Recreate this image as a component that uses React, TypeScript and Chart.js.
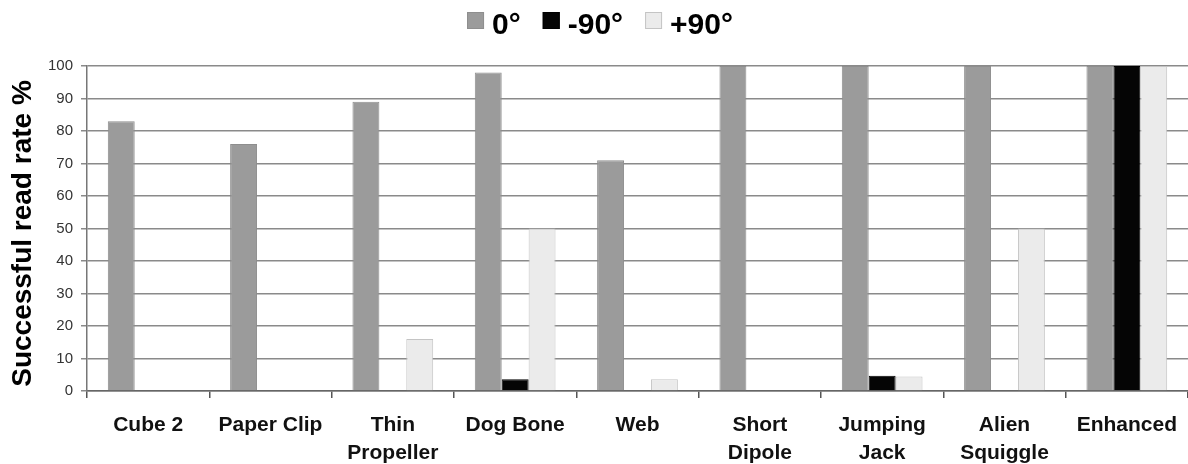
import React, { useEffect, useRef } from "react";
import { Chart, registerables } from "chart.js";

Chart.register(...registerables);

const categories: (string | string[])[] = [
  "Cube 2",
  "Paper Clip",
  ["Thin", "Propeller"],
  "Dog Bone",
  "Web",
  ["Short", "Dipole"],
  ["Jumping", "Jack"],
  ["Alien", "Squiggle"],
  "Enhanced",
];
const seriesNames = ["0°", "-90°", "+90°"];
const values0 = [83, 76, 89, 98, 71, 100, 100, 100, 100];
const valuesMinus90 = [0, 0, 0, 3.6, 0, 0, 4.7, 0, 100];
const valuesPlus90 = [0, 0, 16, 50, 3.6, 0, 4.5, 50, 100];
const yTicks = [0, 10, 20, 30, 40, 50, 60, 70, 80, 90, 100];
const yTitle = "Successful read rate %";

const FONT = "'Liberation Sans', Arial, Helvetica, sans-serif";

const customLegendAndTitle = {
  id: "customLegendAndTitle",
  afterDraw(chart: any) {
    const ctx = chart.ctx as CanvasRenderingContext2D;
    // Legend
    ctx.save();
    ctx.font = `bold 30px ${FONT}`;
    ctx.textBaseline = "middle";
    ctx.textAlign = "left";
    const box = 17;
    const gap = 8;
    const spacing = 22;
    const items = chart.data.datasets.map((ds: any) => ({
      label: ds.label as string,
      fill: ds.backgroundColor as string,
      stroke: ds.borderColor as string,
      w: ctx.measureText(ds.label).width,
    }));
    const total =
      items.reduce((s: number, it: any) => s + box + gap + it.w, 0) +
      spacing * (items.length - 1);
    let x = 600 - total / 2;
    const cy = 26;
    items.forEach((it: any) => {
      ctx.fillStyle = it.fill;
      ctx.fillRect(x, 12, box, box);
      ctx.strokeStyle = it.stroke;
      ctx.lineWidth = 1;
      ctx.strokeRect(x + 0.5, 12.5, box - 1, box - 1);
      ctx.fillStyle = "#000";
      ctx.fillText(it.label, x + box + gap, cy);
      x += box + gap + it.w + spacing;
    });
    ctx.restore();

    // Y axis title
    ctx.save();
    ctx.translate(23, 233.5);
    ctx.rotate(-Math.PI / 2);
    ctx.font = `bold 28px ${FONT}`;
    ctx.fillStyle = "#000";
    ctx.textAlign = "center";
    ctx.textBaseline = "middle";
    ctx.fillText(yTitle, 0, 0);
    ctx.restore();
  },
};

export default function App() {
  const ref = useRef<HTMLCanvasElement | null>(null);
  useEffect(() => {
    document.body.style.margin = "0";
    const ctx = ref.current!.getContext("2d")!;
    const chart = new Chart(ctx, {
      type: "bar",
      data: {
        labels: categories,
        datasets: [
          {
            label: seriesNames[0],
            data: values0,
            backgroundColor: "#9b9b9b",
            borderColor: "#8e8e8e",
            borderWidth: 1,
          },
          {
            label: seriesNames[1],
            data: valuesMinus90,
            backgroundColor: "#050505",
            borderColor: "#000000",
            borderWidth: 1,
          },
          {
            label: seriesNames[2],
            data: valuesPlus90,
            backgroundColor: "#ebebeb",
            borderColor: "#c4c4c4",
            borderWidth: 1,
          },
        ],
      },
      plugins: [customLegendAndTitle],
      options: {
        animation: false,
        responsive: false,
        layout: { padding: { top: 66, right: 0, left: 0, bottom: 0 } },
        datasets: {
          bar: {
            categoryPercentage: 0.66,
            barPercentage: 1.0,
          },
        },
        plugins: {
          tooltip: { enabled: false },
          legend: { display: false },
        },
        scales: {
          x: {
            grid: {
              offset: true,
              drawOnChartArea: false,
              drawTicks: true,
              tickLength: 7,
              color: "#555",
              lineWidth: 1.5,
            },
            border: { color: "#666", width: 1.5 },
            ticks: {
              font: { family: FONT, size: 21, weight: "bold", lineHeight: 1.3 },
              color: "#111",
              maxRotation: 0,
              autoSkip: false,
              padding: 14,
            },
            afterFit: (scale: any) => {
              scale.height = 73;
            },
          },
          y: {
            min: 0,
            max: 100,
            afterBuildTicks: (scale: any) => {
              scale.ticks = yTicks.map((v) => ({ value: v }));
            },
            grid: {
              color: "#8a8a8a",
              lineWidth: 1.5,
              tickLength: 6,
            },
            border: { color: "#777", width: 1.5 },
            ticks: {
              font: { family: FONT, size: 15 },
              color: "#333",
              padding: 8,
            },
            afterFit: (scale: any) => {
              scale.width = 87;
            },
          },
        },
      },
    });
    return () => chart.destroy();
  }, []);
  return (
    <div
      style={{
        position: "absolute",
        left: 0,
        top: 0,
        width: 1188,
        height: 464,
        overflow: "hidden",
      }}
    >
      <canvas ref={ref} width={1191} height={464} style={{ display: "block" }} />
    </div>
  );
}
